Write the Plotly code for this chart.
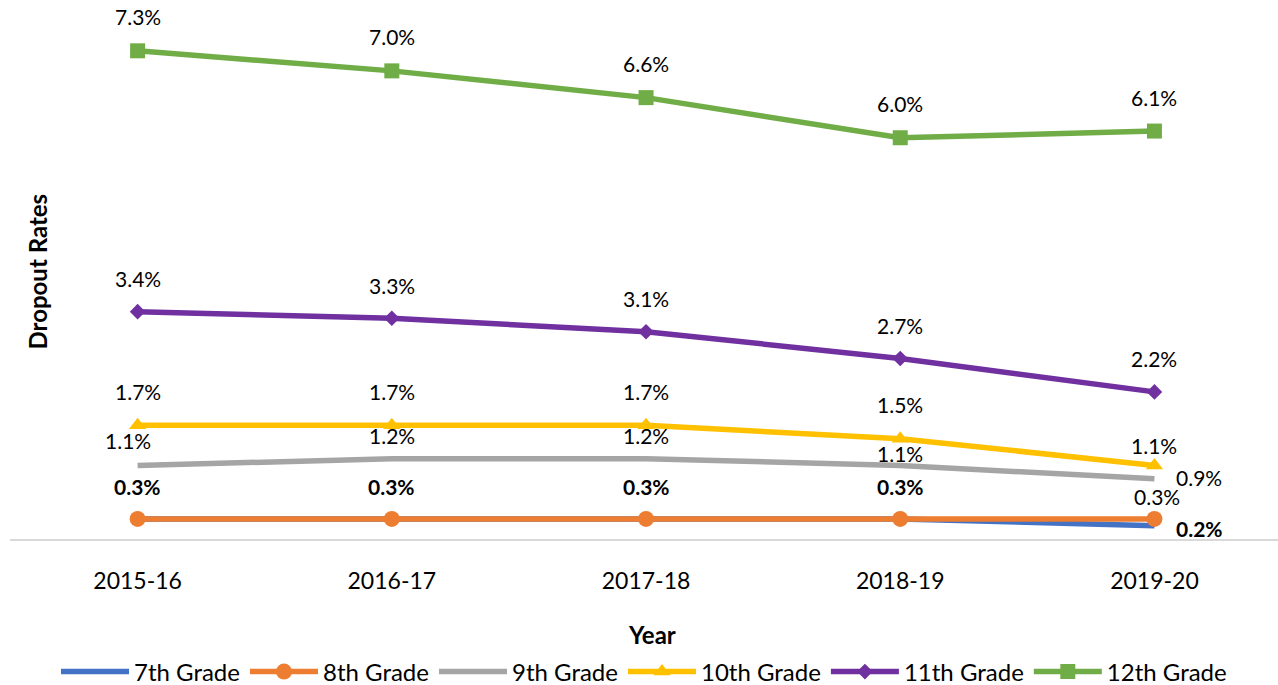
import plotly.graph_objects as go

years = ["2015-16", "2016-17", "2017-18", "2018-19", "2019-20"]
grade7 = [0.3, 0.3, 0.3, 0.3, 0.2]
grade8 = [0.3, 0.3, 0.3, 0.3, 0.3]
grade9 = [1.1, 1.2, 1.2, 1.1, 0.9]
grade10 = [1.7, 1.7, 1.7, 1.5, 1.1]
grade11 = [3.4, 3.3, 3.1, 2.7, 2.2]
grade12 = [7.3, 7.0, 6.6, 6.0, 6.1]
names = ["7th Grade", "8th Grade", "9th Grade", "10th Grade", "11th Grade", "12th Grade"]

series = [grade7, grade8, grade9, grade10, grade11, grade12]
colors = ["#4472C4", "#ED7D31", "#A5A5A5", "#FFC000", "#7030A0", "#70AD47"]
markers = [None, "circle", None, "triangle-up", "diamond", "square"]
msizes = [0, 16, 0, 15, 12, 15]

FONT = "Lato"
fig = go.Figure()
for vals, name, col, sym, ms in zip(series, names, colors, markers, msizes):
    if sym:
        fig.add_trace(go.Scatter(x=years, y=vals, name=name, mode="lines+markers",
                                 line=dict(color=col, width=5.5),
                                 marker=dict(symbol=sym, size=ms, color=col)))
    else:
        fig.add_trace(go.Scatter(x=years, y=vals, name=name, mode="lines",
                                 line=dict(color=col, width=5.5)))

def lab(v):
    return f"{v:.1f}%"

ann = []
def add(x, y, text, xs=0, ys=33, xa="center", bold=False):
    ann.append(dict(x=x, y=y, xref="x", yref="y", text=f"<b>{text}</b>" if bold else text,
                    showarrow=False, xanchor=xa, yanchor="middle", xshift=xs, yshift=ys,
                    font=dict(family=FONT, size=21, color="#000000")))

# 7th grade (bold)
for i, v in enumerate(grade7):
    if i < 4:
        add(years[i], v, lab(v), ys=32, bold=True)
    else:
        add(years[i], v, lab(v), xs=20, ys=-3, xa="left", bold=True)
# 8th grade: only last label shown
add(years[4], grade8[4], lab(grade8[4]), xs=3, ys=22)
# 9th grade
nine_off = [(-10, 25), (0, 23), (0, 23), (0, 12)]
for i, v in enumerate(grade9):
    if i < 4:
        add(years[i], v, lab(v), xs=nine_off[i][0], ys=nine_off[i][1])
    else:
        add(years[i], v, lab(v), xs=20, ys=1, xa="left")
# 10th grade
for i, v in enumerate(grade10):
    add(years[i], v, lab(v), ys=(20 if i == 4 else 34))
# 11th, 12th
for i, v in enumerate(grade11):
    add(years[i], v, lab(v), ys=33)
for i, v in enumerate(grade12):
    add(years[i], v, lab(v), ys=34)

# axis titles
ann.append(dict(x=0.5, y=0, xref="paper", yref="paper", text="<b>Year</b>", showarrow=False,
                xanchor="center", yanchor="middle", xshift=8, yshift=-95,
                font=dict(family=FONT, size=24, color="#000000")))
ann.append(dict(x=0, y=0.5, xref="paper", yref="paper", text="<b>Dropout Rates</b>", showarrow=False,
                xanchor="center", yanchor="middle", xshift=27, textangle=-90,
                font=dict(family=FONT, size=24, color="#000000")))

fig.update_layout(
    width=1278, height=685,
    margin=dict(l=10, r=0, t=4, b=146),
    paper_bgcolor="white", plot_bgcolor="white",
    font=dict(family=FONT, color="#000000"),
    annotations=ann,
    showlegend=True,
    legend=dict(orientation="h", x=0.5, xanchor="center", yref="container", y=0.019,
                yanchor="middle", font=dict(family=FONT, size=24, color="#000000"),
                itemwidth=68, traceorder="normal"),
    xaxis=dict(type="category", range=[-0.502, 4.486], showgrid=False, zeroline=False,
               showline=True, linecolor="#D9D9D9", linewidth=2,
               ticks="outside", ticklen=20, tickcolor="rgba(0,0,0,0)",
               tickfont=dict(family=FONT, size=23, color="#000000")),
    yaxis=dict(range=[0, 8], showgrid=False, zeroline=False, showticklabels=False,
               showline=False),
)

fig.write_html("out.html", config={"displayModeBar": False},
               post_script="document.body.style.margin='0';document.body.style.overflow='hidden';")
